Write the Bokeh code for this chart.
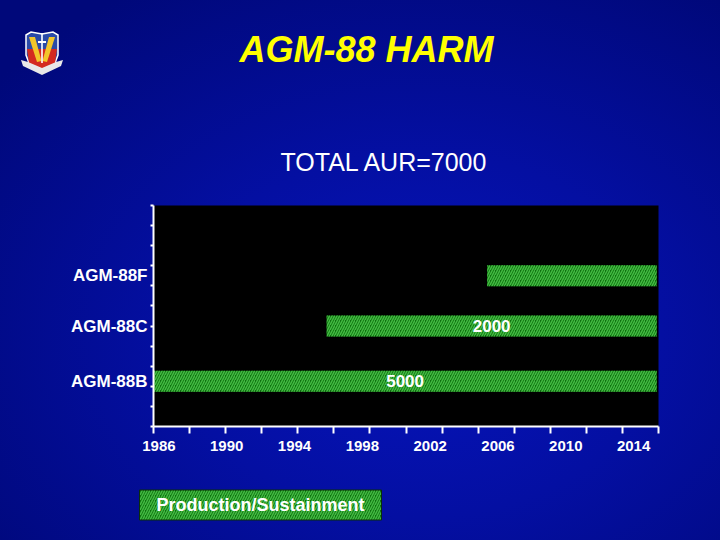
from bokeh.plotting import figure
from bokeh.models import Range1d, FixedTicker, ColumnDataSource, Title, Div
from bokeh.layouts import column
from bokeh.core.properties import value
from bokeh.embed import file_html
from bokeh.resources import INLINE

# ---- data ----
title_text = "AGM-88 HARM"
subtitle_text = "TOTAL AUR=7000"
variants = ["AGM-88B", "AGM-88C", "AGM-88F"]
variant_rows = [2.25, 5.0, 7.5]
start_year = [1986.0, 1995.6, 2004.5]
end_year = [2013.9, 2013.9, 2013.9]
aur_labels = ["5000", "2000", ""]
year_labels = ["1986", "1990", "1994", "1998", "2002", "2006", "2010", "2014"]
minor_years = list(range(1986, 2015, 2))
row_ticks = list(range(0, 12))
legend_label = "Production/Sustainment"

FONT = "Liberation Sans"
BAR_FILL = "#0f700f"
BAR_HATCH = "#42ba42"

# ---- figure ----
p = figure(width=720, height=540, output_backend="svg", toolbar_location=None,
           x_range=Range1d(1986, 2014), y_range=Range1d(0, 11),
           min_border_left=153, min_border_right=62, min_border_top=205,
           min_border_bottom=113, title=title_text)
p.background_fill_color = "black"
p.border_fill_color = None
p.outline_line_color = None
p.grid.visible = False
p.styles = {"background": "radial-gradient(ellipse 75% 75% at 58% 62%, #0614bc 0%, #040fa2 45%, #00087a 100%)"}

p.title.align = "left"
p.title.offset = 86
p.title.standoff = 48
p.title.padding = (0, 0, 0, 23)
p.title.text_font = FONT
p.title.text_font_style = "bold italic"
p.title.text_font_size = "36px"
p.title.text_color = "#ffff00"

src = ColumnDataSource(dict(
    row=variant_rows, start=start_year, end=end_year, aur=aur_labels,
    mid=[(s + e) / 2 for s, e in zip(start_year, end_year)],
))
p.hbar(y="row", left="start", right="end", height=1.05, source=src,
       fill_color=BAR_FILL, line_color=None, hatch_pattern="/",
       hatch_color=BAR_HATCH, hatch_scale=5, hatch_weight=1.5)
p.text(x="mid", y="row", text="aur", source=src, text_color="white",
       text_font=value(FONT), text_font_style="bold", text_font_size="17px",
       text_align="center", text_baseline="middle")

label_pos = [round(1986.3 + (int(y) - 1986) * 0.94, 2) for y in year_labels]
xa = p.xaxis[0]
xa.ticker = FixedTicker(ticks=label_pos, minor_ticks=minor_years)
xa.major_label_overrides = {pos: lab for pos, lab in zip(label_pos, year_labels)}
xa.major_tick_out = 0
xa.major_tick_in = 0
xa.minor_tick_out = 7
xa.minor_tick_in = 0
xa.minor_tick_line_color = "white"
xa.minor_tick_line_width = 2
xa.axis_line_color = "white"
xa.axis_line_width = 2
xa.major_label_text_color = "white"
xa.major_label_text_font = FONT
xa.major_label_text_font_style = "bold"
xa.major_label_text_font_size = "15px"
xa.major_label_standoff = 7
# blank axis label used only as vertical spacing above the legend box
xa.axis_label = " "
xa.axis_label_standoff = 0
xa.axis_label_text_font_size = "10px"

ya = p.yaxis[0]
ya.ticker = FixedTicker(ticks=variant_rows, minor_ticks=row_ticks)
ya.major_label_overrides = {r: v for r, v in zip(variant_rows, variants)}
ya.major_tick_out = 0
ya.major_tick_in = 0
ya.minor_tick_out = 3
ya.minor_tick_in = 0
ya.minor_tick_line_color = "white"
ya.minor_tick_line_width = 2
ya.axis_line_color = "white"
ya.axis_line_width = 2
ya.major_label_text_color = "white"
ya.major_label_text_font = FONT
ya.major_label_text_font_style = "bold"
ya.major_label_text_font_size = "17px"
ya.major_label_standoff = 3

p.add_layout(Title(text=subtitle_text, align="left", offset=127, standoff=59,
                   text_font=FONT, text_font_size="25px", text_color="white",
                   text_font_style="normal"), "above")

# legend box drawn as a padded, hatched title below the axis
p.add_layout(Title(text=legend_label, align="left", offset=-14, standoff=41,
                   text_font=FONT, text_font_size="18px", text_color="white",
                   text_font_style="bold", padding=(17, 5),
                   background_fill_color=BAR_FILL, background_fill_alpha=1.0,
                   background_hatch_pattern="/", background_hatch_color=BAR_HATCH,
                   background_hatch_scale=5, background_hatch_weight=1.5,
                   border_line_color="#0a300a", border_line_width=1), "below")

# small command emblem in the top-left corner (decoration)
emblem_svg = (
    '<svg width="46" height="48" viewBox="0 0 46 48" xmlns="http://www.w3.org/2000/svg">'
    '<polygon points="7,6 12,3 23,5 34,3 39,6 39,26 36,34 23,44 10,34 7,26" fill="#2a4aa8" stroke="white" stroke-width="1.5"/>'
    '<polygon points="8,20 38,20 36,34 23,43 10,34" fill="#d42a20"/>'
    '<polygon points="10,8 16,8 22.5,32 18,33" fill="#f2c62a"/>'
    '<polygon points="36,8 30,8 23.5,32 28,33" fill="#f2c62a"/>'
    '<rect x="22.2" y="4" width="1.6" height="30" fill="white"/>'
    '<rect x="19" y="12" width="8" height="2" fill="white"/>'
    '<polygon points="2,31 9,33 23,39 37,33 44,31 42,37 23,46 4,37" fill="#e8e8e8"/>'
    '</svg>'
)
emblem = Div(text=emblem_svg, width=46, height=48,
             styles={"position": "absolute", "left": "14px", "top": "24px", "z-index": "5"})

layout = column(p, emblem, spacing=0)

html = file_html(layout, INLINE).replace("</head>", "<style>body{background:#00087a;}</style></head>", 1)
open("out.html", "w").write(html)
